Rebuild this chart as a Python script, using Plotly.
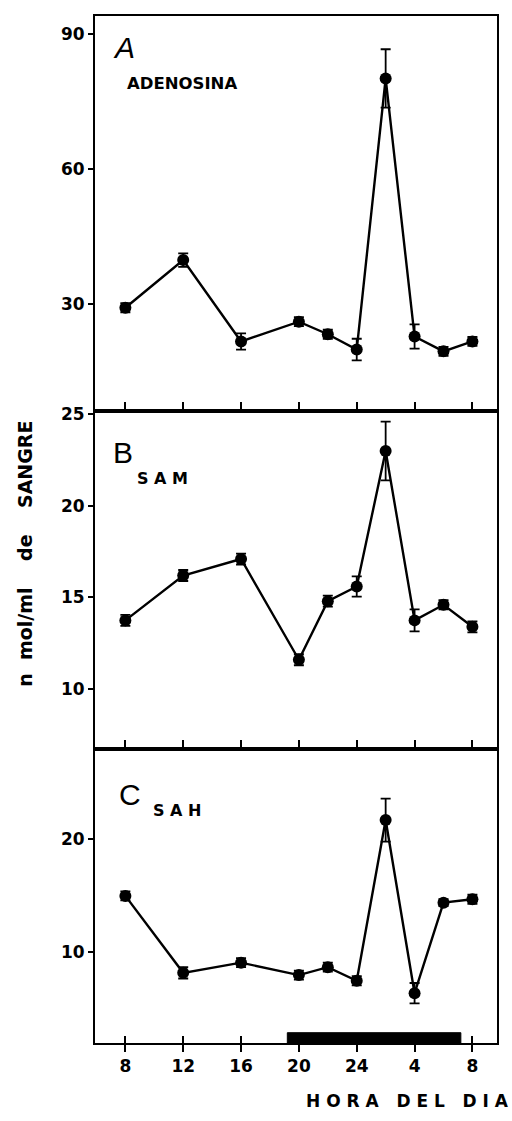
import plotly.graph_objects as go

# Sampling times (hours; 26-32 = 2-8 h of the following day)
hours = [8, 12, 16, 20, 22, 24, 26, 28, 30, 32]

adenosina = [29.1, 39.7, 21.6, 26.0, 23.2, 19.8, 80.1, 22.7, 19.4, 21.6]
adenosina_err = [1.0, 1.5, 1.8, 1.0, 1.0, 2.4, 6.5, 2.7, 1.0, 1.0]

sam = [13.75, 16.2, 17.1, 11.6, 14.8, 15.6, 23.0, 13.75, 14.6, 13.4]
sam_err = [0.3, 0.3, 0.3, 0.3, 0.3, 0.55, 1.6, 0.6, 0.25, 0.3]

sah = [15.0, 8.2, 9.1, 8.0, 8.7, 7.5, 21.7, 6.4, 14.4, 14.7]
sah_err = [0.4, 0.5, 0.4, 0.4, 0.4, 0.4, 1.9, 0.9, 0.3, 0.4]

tick_hours = [8, 12, 16, 20, 24, 28, 32]
tick_labels = ["8", "12", "16", "20", "24", "4", "8"]

# Dark period (19 h to 7 h)
dark_start, dark_end = 19.2, 31.2

X_RANGE = [5.9, 33.7]
FONT = "DejaVu Sans"

fig = go.Figure()

panels = [
    (adenosina, adenosina_err, "x", "y"),
    (sam, sam_err, "x2", "y2"),
    (sah, sah_err, "x3", "y3"),
]
for vals, errs, xa, ya in panels:
    fig.add_trace(go.Scatter(
        x=hours, y=vals, xaxis=xa, yaxis=ya,
        mode="lines+markers",
        line=dict(color="black", width=2.4),
        marker=dict(color="black", size=12, symbol="circle"),
        error_y=dict(type="data", array=errs, visible=True,
                     color="black", thickness=1.8, width=5),
        showlegend=False, hoverinfo="skip",
    ))

# invisible trace carrying the overlay axis that gives the crossing ticks
fig.add_trace(go.Scatter(x=[hours[0]], y=[sah[0]], xaxis="x4", yaxis="y3",
                         mode="markers", marker=dict(opacity=0),
                         showlegend=False, hoverinfo="skip"))

axis_line = dict(showline=True, linecolor="black", linewidth=2,
                 showgrid=False, zeroline=False)
tick_font = dict(family=FONT, size=17, color="black", weight="bold")

dom_c = [0.0, 0.2865]
dom_b = [0.2865, 0.6157]
dom_a = [0.6157, 1.0]

fig.update_layout(
    width=512, height=1121,
    margin=dict(l=95, r=15, t=10, b=78),
    paper_bgcolor="white", plot_bgcolor="white",
    xaxis=dict(**axis_line, mirror=True, anchor="y", domain=[0, 1],
               range=X_RANGE, tickvals=tick_hours, showticklabels=False,
               ticks="inside", ticklen=9, tickwidth=2, tickcolor="black"),
    xaxis2=dict(**axis_line, mirror=True, anchor="y2", domain=[0, 1],
                range=X_RANGE, tickvals=tick_hours, showticklabels=False,
                ticks="inside", ticklen=9, tickwidth=2, tickcolor="black"),
    xaxis3=dict(**axis_line, mirror=True, anchor="y3", domain=[0, 1],
                range=X_RANGE, tickvals=tick_hours, ticktext=tick_labels,
                ticks="outside", ticklen=7, tickwidth=2, tickcolor="black",
                tickfont=tick_font),
    xaxis4=dict(overlaying="x3", anchor="y3", domain=[0, 1], range=X_RANGE,
                tickvals=tick_hours, showticklabels=False, showline=False,
                showgrid=False, zeroline=False,
                ticks="inside", ticklen=7, tickwidth=2, tickcolor="black"),
    yaxis=dict(**axis_line, mirror=True, anchor="x", domain=dom_a,
               range=[6.2, 94], tickvals=[30, 60, 90],
               ticks="outside", ticklen=5, tickwidth=2, tickcolor="black",
               tickfont=tick_font),
    yaxis2=dict(**axis_line, mirror=True, anchor="x2", domain=dom_b,
                range=[6.74, 25.2], tickvals=[10, 15, 20, 25],
                ticks="outside", ticklen=5, tickwidth=2, tickcolor="black",
                tickfont=tick_font),
    yaxis3=dict(**axis_line, mirror=True, anchor="x3", domain=dom_c,
                range=[2.0, 28.0], tickvals=[10, 20],
                ticks="outside", ticklen=5, tickwidth=2, tickcolor="black",
                tickfont=tick_font),
)

# Dark-phase bar along the bottom axis
fig.add_shape(type="rect", xref="x3", yref="y3 domain",
              x0=dark_start, x1=dark_end, y0=0, y1=0.035,
              fillcolor="black", line=dict(color="black", width=1))

letter_font = dict(family="Liberation Sans", size=30, color="black")
name_font = dict(family=FONT, size=16, color="black", weight="bold")

annotations = [
    dict(text="<i>A</i>", xref="x domain", yref="y domain", x=0.04, y=0.92,
         xanchor="left", yanchor="middle", font=letter_font),
    dict(text="ADENOSINA", xref="x domain", yref="y domain", x=0.075, y=0.83,
         xanchor="left", yanchor="middle",
         font=dict(family=FONT, size=16.5, color="black", weight="bold")),
    dict(text="B", xref="x2 domain", yref="y2 domain", x=0.04, y=0.875,
         xanchor="left", yanchor="middle", font=letter_font),
    dict(text="S A M", xref="x2 domain", yref="y2 domain", x=0.1, y=0.8,
         xanchor="left", yanchor="middle", font=name_font),
    dict(text="C", xref="x3 domain", yref="y3 domain", x=0.055, y=0.845,
         xanchor="left", yanchor="middle", font=letter_font),
    dict(text="S A H", xref="x3 domain", yref="y3 domain", x=0.14, y=0.79,
         xanchor="left", yanchor="middle", font=name_font),
    dict(text="H O R A   D E L   D I A", xref="paper", yref="paper",
         x=1.035, y=-0.056, xanchor="right", yanchor="middle",
         font=dict(family=FONT, size=17, color="black", weight="bold")),
    dict(text="n  mol/ml    de    SANGRE", xref="paper", yref="paper",
         x=-0.175, y=0.476, xanchor="center", yanchor="middle", textangle=-90,
         font=dict(family=FONT, size=19, color="black", weight="bold")),
]
for a in annotations:
    a["showarrow"] = False
fig.update_layout(annotations=annotations)

fig.write_html("out.html")
